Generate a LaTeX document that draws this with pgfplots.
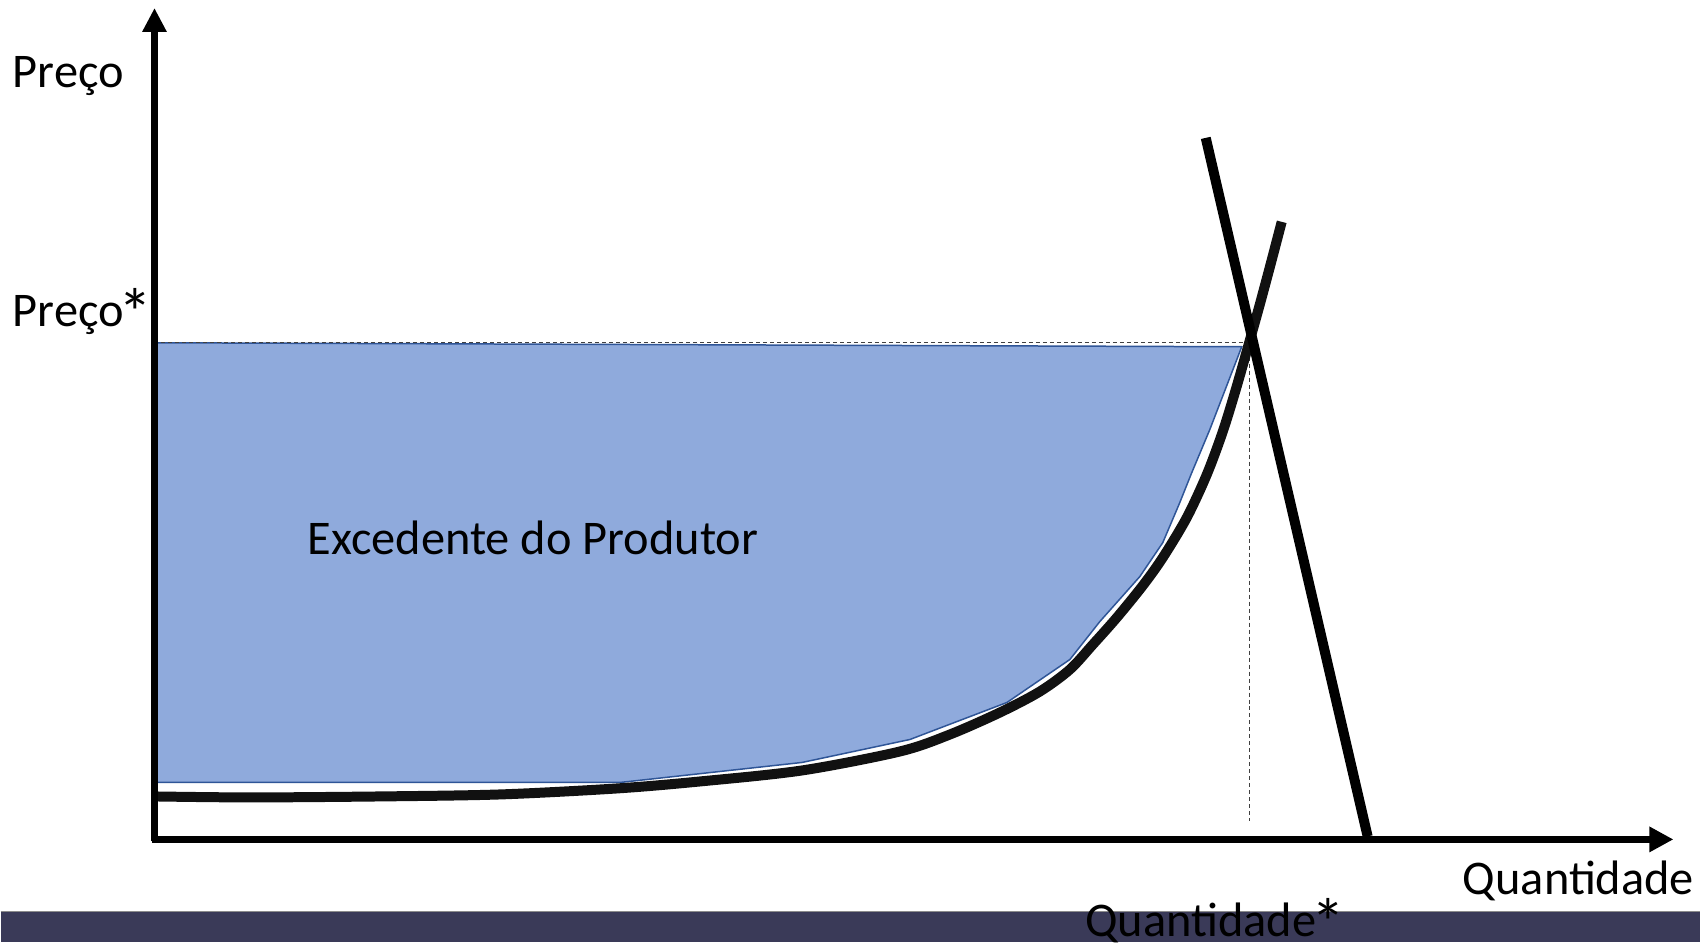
\documentclass[border=0pt]{standalone}
\usepackage{fontspec}
\setmainfont{Carlito}
\usepackage{graphicx}
\usepackage{pgfplots}
\pgfplotsset{compat=1.18}
\usetikzlibrary{arrows.meta}
\definecolor{fillblue}{HTML}{8FAADC}
\definecolor{edgeblue}{HTML}{2F5597}
\definecolor{barcol}{HTML}{3A3A58}
\definecolor{curvecol}{HTML}{111111}
\newcommand{\lab}{\fontsize{24.2}{29}\selectfont}
\newcommand{\bigast}{\kern-0.1em\raisebox{-0.2em}[0pt][0pt]{\scalebox{1.4}{*}}}
\begin{document}
\begin{tikzpicture}
\begin{axis}[
  scale only axis,
  width=759.5pt, height=416pt,
  xmin=0, xmax=1519, ymin=0, ymax=832,
  hide axis, clip=false,
]
% bounding box of the whole picture
\path (axis cs:-154,-103) rectangle (axis cs:1547,840);
% producer surplus area
\addplot[fill=fillblue, draw=edgeblue, line width=0.75pt] coordinates {
  (0,497) (1088,493) (1056,410) (1038,367) (1026,337) (1009,297)
  (986,263) (946,218) (916,180) (853,137) (756,100) (648,77) (466,57) (0,57)
} -- cycle;
% dashed guides
\addplot[color=black!75, line width=0.7pt, dash pattern=on 2pt off 1.5pt] coordinates {(0,497) (1096,497)};
\addplot[color=black!75, line width=0.7pt, dash pattern=on 2pt off 1.5pt] coordinates {(1096,497) (1096,18)};
% supply curve
\addplot[color=curvecol, line width=5pt, smooth] coordinates {
  (0,43) (96,42) (226,43) (346,45) (463,51) (546,58) (648,69) (746,88)
  (796,105) (846,127) (886,148) (916,170) (939,195) (963,222) (989,254)
  (1009,282) (1033,322) (1053,365) (1069,408) (1082,450) (1094,492)
  (1106,535) (1117,576) (1128,618)
};
% demand line
\addplot[color=black, line width=5pt] coordinates {(1052,702) (1214,3)};
% axes
\addplot[color=black, line width=3.5pt, -{Triangle[length=12pt, width=11.5pt]}] coordinates {(0,-2) (0,832)};
\addplot[color=black, line width=3.5pt, -{Triangle[length=12pt, width=12pt]}] coordinates {(-2,0) (1520,0)};
% labels
\node[anchor=base west, inner sep=0pt, font=\lab] at (axis cs:-142,752) {Preço};
\node[anchor=base west, inner sep=0pt, font=\lab] at (axis cs:-142,513) {Preço\bigast};
\node[anchor=base west, inner sep=0pt, font=\lab] at (axis cs:153,285) {Excedente do Produtor};
\node[anchor=base west, inner sep=0pt, font=\lab] at (axis cs:1309,-55) {Quantidade};
% bottom bar
\addplot[fill=barcol, draw=none] coordinates {(-154,-72) (1547,-72) (1547,-103) (-154,-103)} -- cycle;
\addplot[color=black!45, line width=0.6pt] coordinates {(-154,-72) (1547,-72)};
\node[anchor=base west, inner sep=0pt, font=\lab] at (axis cs:931,-97) {Quantidade\bigast};
\end{axis}
\end{tikzpicture}
\end{document}
